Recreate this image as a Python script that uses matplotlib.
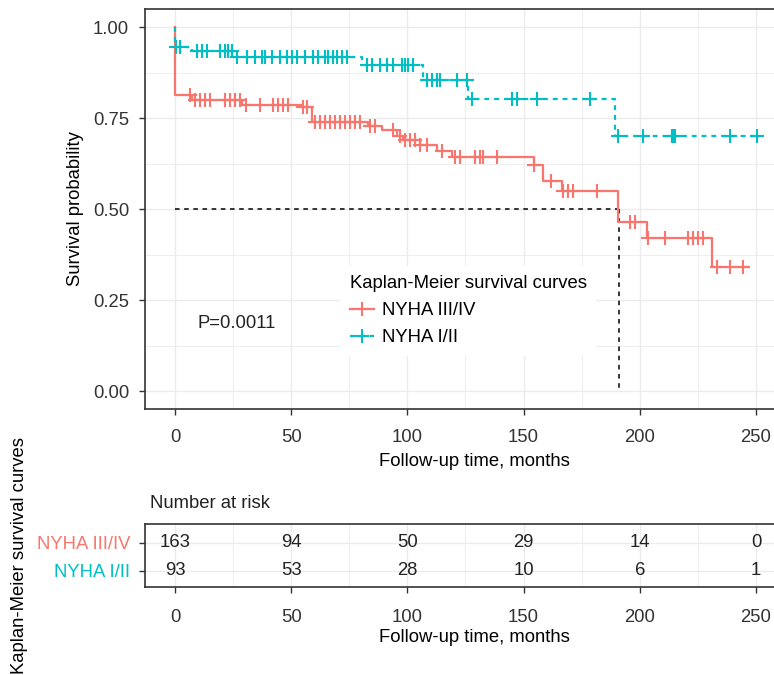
import numpy as np
import matplotlib
matplotlib.use("Agg")
import matplotlib.pyplot as plt
from matplotlib.lines import Line2D

plt.rcParams['font.family'] = ['Liberation Sans', 'DejaVu Sans']

RED = '#F8766D'
TEAL = '#00BFC4'

# ---- data ----
groups = ['NYHA III/IV', 'NYHA I/II']

red_times = [0, 0, 7.2, 28.7, 55, 58.8, 83, 89, 95.4, 98, 105.4, 112.6, 119,
             154.5, 158.4, 166.4, 190.8, 203, 231]
red_surv = [1.0, 0.813, 0.800, 0.787, 0.780, 0.739, 0.728, 0.719, 0.702, 0.690,
            0.678, 0.659, 0.645, 0.623, 0.577, 0.549, 0.464, 0.420, 0.341]
red_end = 246.5
red_censor = [6.5, 8.6, 10.8, 12.9, 15.1, 21.5, 23.7, 25.8, 28, 30.5, 36.6,
              42.3, 44.5, 46.6, 48.8, 55.2, 56.7, 60.2, 62.4, 64.5, 66.7, 68.8,
              71, 73.1, 75.3, 77.5, 79.6, 83.9, 86, 94, 96.8, 99, 101, 103.3,
              105.4, 108.3, 114.8, 120.5, 122.6, 129.1, 131.2, 132.7, 138.4,
              154.5, 161.6, 167.1, 169.2, 171.4, 181.4, 195.8, 197.9, 203.7,
              210.8, 220.9, 223, 225.2, 227.3, 233.1, 238.8, 244.5]

teal_times = [0, 0, 7.2, 25, 80.3, 106.8, 126.2, 189.3]
teal_surv = [1.0, 0.947, 0.935, 0.919, 0.898, 0.855, 0.804, 0.702]
teal_end = 250.3
teal_censor = [0.5, 2.2, 9.3, 11.5, 13.6, 19.4, 21.5, 22.9, 24.4, 26.5, 30.8,
               34.4, 37.3, 38.7, 41.6, 45.2, 48.1, 50.2, 52.4, 55.9, 59.5, 61.7,
               64.5, 66, 68.1, 69.6, 71.7, 73.9, 82.5, 84.6, 88.2, 91.1, 94,
               97.6, 99, 100.4, 102.5, 108.3, 110.5, 112.6, 114, 121.2, 125.5,
               127.7, 144.9, 147, 155.6, 178.6, 190.8, 201.5, 214, 214.6, 215.3,
               238.8, 250.3]

median_time = 191.0
median_surv = 0.5
p_text = 'P=0.0011'

risk_times = [0, 50, 100, 150, 200, 250]
risk_red = [163, 94, 50, 29, 14, 0]
risk_teal = [93, 53, 28, 10, 6, 1]

xticks = [0, 50, 100, 150, 200, 250]
yticks = [0.0, 0.25, 0.5, 0.75, 1.0]
ytick_labels = ['0.00', '0.25', '0.50', '0.75', '1.00']


def step_at(times, surv, t):
    idx = np.searchsorted(np.asarray(times), t, side='right') - 1
    return np.asarray(surv)[np.clip(idx, 0, len(surv) - 1)]


W, H = 774, 675
fig = plt.figure(figsize=(W / 100, H / 100), dpi=100)

def px_rect(l, r, t, b):
    return [l / W, 1 - b / H, (r - l) / W, (b - t) / H]

FS = 13.3
GRID = '#EBEBEB'
SPINE = '#333333'
TICKC = '#333333'

# ---------- top plot ----------
ax = fig.add_axes(px_rect(145, 785, 9.3, 409.3))
ax.set_xlim(-12.91, 262.5)
ax.set_ylim(-0.05, 1.05)
ax.set_xticks(xticks)
ax.set_xticks([25, 75, 125, 175, 225], minor=True)
ax.set_yticks(yticks)
ax.set_yticklabels(ytick_labels)
ax.set_yticks([0.125, 0.375, 0.625, 0.875], minor=True)
ax.grid(True, which='major', color=GRID, lw=1.0, zorder=0)
ax.grid(True, which='minor', color=GRID, lw=0.6, zorder=0)
ax.set_axisbelow(True)
ax.tick_params(which='minor', length=0)
ax.tick_params(axis='x', which='major', length=4.5, width=1.0, color=SPINE,
               labelsize=FS, labelcolor=TICKC, pad=9.5)
ax.tick_params(axis='y', which='major', length=4.5, width=1.0, color=SPINE,
               labelsize=FS, labelcolor=TICKC, pad=7)
for s in ax.spines.values():
    s.set_color(SPINE)
    s.set_linewidth(1.2)

# curves
rt = list(red_times) + [red_end]
rs = list(red_surv) + [red_surv[-1]]
ax.step(rt, rs, where='post', color=RED, lw=1.6, zorder=3)
tt = list(teal_times) + [teal_end]
ts = list(teal_surv) + [teal_surv[-1]]
ax.step(tt, ts, where='post', color=TEAL, lw=1.6, zorder=3,
        linestyle=(0, (2.2, 2.2)))

ax.plot(red_censor, step_at(red_times, red_surv, red_censor), ls='none',
        marker='+', ms=10, mew=1.5, color=RED, zorder=4)
ax.plot(teal_censor, step_at(teal_times, teal_surv, teal_censor), ls='none',
        marker='+', ms=10, mew=1.5, color=TEAL, zorder=4)

# median lines
ax.plot([0, median_time], [median_surv, median_surv], color='black', lw=1.1,
        ls=(0, (3, 3)), zorder=2)
ax.plot([median_time, median_time], [median_surv, 0], color='black', lw=1.1,
        ls=(0, (3, 3)), zorder=2)

ax.text(9.5, 0.187, p_text, fontsize=FS, va='center', ha='left', color='#222222')

handles = [Line2D([], [], color=RED, lw=1.6, marker='+', ms=10, mew=1.5),
           Line2D([], [], color=TEAL, lw=1.6, marker='+', ms=10, mew=1.5,
                  linestyle=(0, (2.2, 2.2)))]
leg = ax.legend(handles, groups, title='Kaplan-Meier survival curves',
                loc='upper left', bbox_to_anchor=(0.291, 0.382),
                fontsize=FS, title_fontsize=FS, frameon=True,
                facecolor='white', edgecolor='none', framealpha=1,
                fancybox=False, handlelength=1.3, handletextpad=0.45,
                labelspacing=0.55, borderpad=0.5, alignment='left')
leg.set_zorder(5)

fig.text(75 / W, 1 - 209 / H, 'Survival probability', rotation=90,
         ha='center', va='center', fontsize=FS, color='black')
fig.text(474 / W, 1 - 462 / H, 'Follow-up time, months', ha='center',
         va='center', fontsize=FS, color='black')

# ---------- risk table ----------
tx = fig.add_axes(px_rect(145, 785, 524.3, 587.3))
tx.set_xlim(-12.91, 262.5)
tx.set_ylim(2.6, 0.34)
tx.set_xticks(xticks)
tx.set_xticks([25, 75, 125, 175, 225], minor=True)
tx.set_yticks([1, 2])
tx.set_yticklabels(groups)
for lab, col in zip(tx.get_yticklabels(), [RED, TEAL]):
    lab.set_color(col)
tx.grid(True, which='major', color=GRID, lw=1.0, zorder=0)
tx.grid(True, which='minor', axis='x', color=GRID, lw=0.6, zorder=0)
tx.set_axisbelow(True)
tx.tick_params(which='minor', length=0)
tx.tick_params(axis='x', which='major', length=4.5, width=1.0, color=SPINE,
               labelsize=FS, labelcolor=TICKC, pad=11)
tx.tick_params(axis='y', which='major', length=4.5, width=1.0, color=SPINE,
               labelsize=FS, pad=6)
for s in tx.spines.values():
    s.set_color(SPINE)
    s.set_linewidth(1.2)

for t, a, b in zip(risk_times, risk_red, risk_teal):
    tx.text(t, 1, str(a), ha='center', va='center', fontsize=FS, color='#222222')
    tx.text(t, 2, str(b), ha='center', va='center', fontsize=FS, color='#222222')

fig.text(150 / W, 1 - 504 / H, 'Number at risk', ha='left', va='center',
         fontsize=FS, color='#222222')
fig.text(474 / W, 1 - 637 / H, 'Follow-up time, months', ha='center',
         va='center', fontsize=FS, color='black')
fig.text(20 / W, 1 - 556 / H, 'Kaplan-Meier survival curves', rotation=90,
         ha='center', va='center', fontsize=FS, color='black')

fig.savefig('out.png', dpi=100)
